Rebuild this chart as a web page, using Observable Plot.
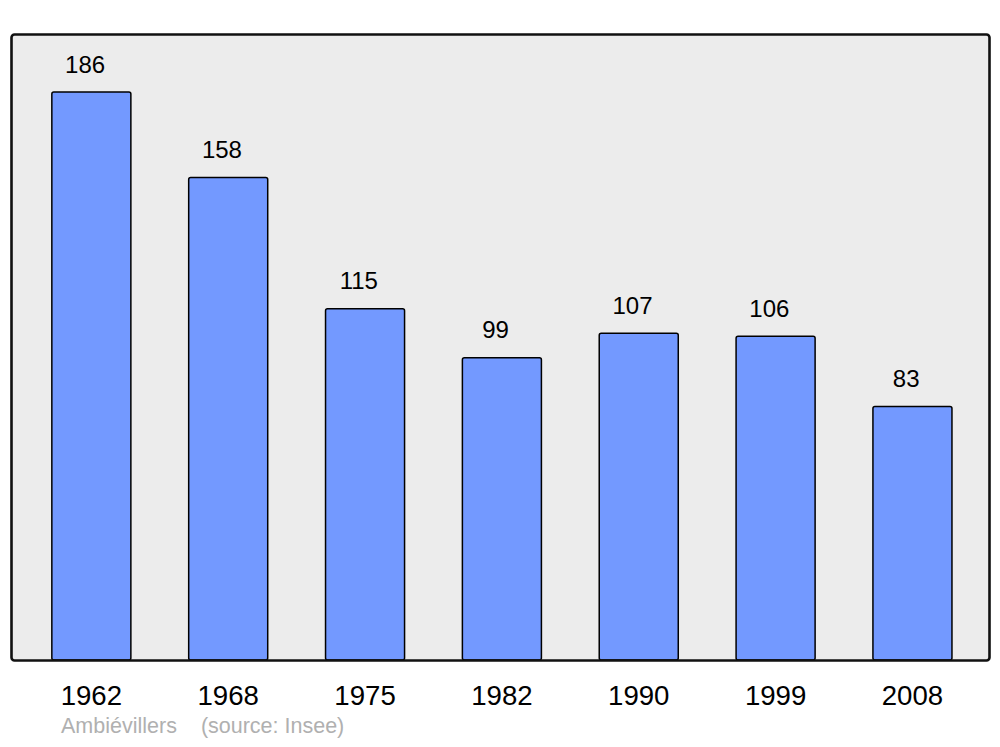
<!DOCTYPE html>
<html>
<head>
<meta charset="utf-8">
<script src="https://cdn.jsdelivr.net/npm/d3@7"></script>
<script src="https://cdn.jsdelivr.net/npm/@observablehq/plot@0.6"></script>
<style>
  html, body { margin: 0; padding: 0; background: #fff; }
  #wrap { position: relative; width: 1000px; height: 747px; font-family: "Liberation Sans", Arial, sans-serif; }
  #caption { position: absolute; left: 61px; top: 716px; font-size: 21.5px; color: #b0b0b0; white-space: pre; line-height: 1; }
  #caption .src { margin-left: 24px; }
  svg { display: block; }
</style>
</head>
<body>
<div id="wrap"></div>
<script>
const years = ["1962", "1968", "1975", "1982", "1990", "1999", "2008"];
const population = [186, 158, 115, 99, 107, 106, 83];
const commune = "Ambiévillers";
const source = "(source: Insee)";

const data = years.map((y, i) => ({year: y, value: population[i]}));

const chart = Plot.plot({
  width: 1000,
  height: 747,
  marginLeft: 11,
  marginRight: 11,
  marginTop: 34,
  marginBottom: 87,
  style: {fontFamily: "'Liberation Sans', Arial, sans-serif", background: "#fff"},
  x: {domain: years, range: [23.1, 980.7], paddingInner: 0.4225, paddingOuter: 0.21, round: false, label: null},
  y: {domain: [0, 205], axis: null},
  marks: [
    Plot.frame({fill: "#ececec", stroke: "none", rx: 3}),
    Plot.barY(data, {x: "year", y: "value", fill: "#7399ff", stroke: "#000", strokeWidth: 1.5, rx: 2}),
    Plot.text(data, {x: "year", y: "value", text: d => String(d.value), lineAnchor: "bottom", dx: -6.8, dy: -20, fontSize: 24, fill: "#000"}),
    Plot.frame({stroke: "#111", strokeWidth: 2.6, rx: 3}),
    Plot.axisX({tickSize: 0, tickPadding: 25, fontSize: 27.6, dx: -0.5, color: "#000", label: null})
  ]
});
const wrap = document.getElementById("wrap");
wrap.appendChild(chart);
const cap = document.createElement("div");
cap.id = "caption";
const s1 = document.createElement("span");
s1.textContent = commune;
const s2 = document.createElement("span");
s2.className = "src";
s2.textContent = source;
cap.appendChild(s1);
cap.appendChild(s2);
wrap.appendChild(cap);
</script>
</body>
</html>
